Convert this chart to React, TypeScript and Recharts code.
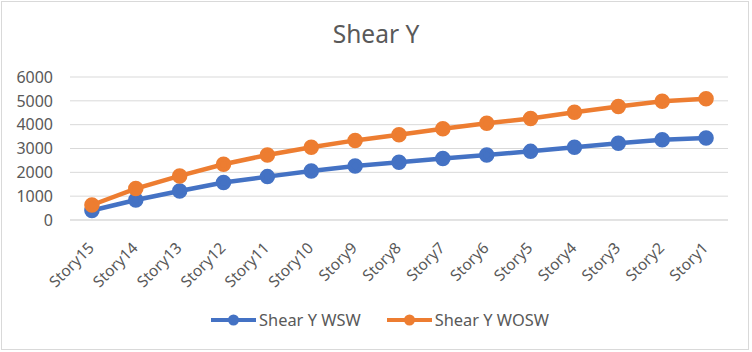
import React from "react";
import { LineChart, Line, XAxis, YAxis, CartesianGrid } from "recharts";

const stories = [
  "Story15", "Story14", "Story13", "Story12", "Story11", "Story10", "Story9", "Story8",
  "Story7", "Story6", "Story5", "Story4", "Story3", "Story2", "Story1",
];
const shearWsw = [400, 840, 1220, 1570, 1820, 2060, 2270, 2420, 2580, 2730, 2880, 3050, 3220, 3370, 3440];
const shearWosw = [630, 1320, 1850, 2340, 2730, 3050, 3340, 3580, 3830, 4060, 4260, 4520, 4760, 4980, 5090];
const yTicks = [0, 1000, 2000, 3000, 4000, 5000, 6000];

const BLUE = "#4472C4";
const ORANGE = "#ED7D31";
const TEXT = "#595959";
const FONT = "'Noto Sans', sans-serif";

const data = stories.map((name, i) => ({
  name,
  wsw: shearWsw[i],
  wosw: shearWosw[i],
}));

const StoryTick = ({ x, y, payload }: any) => (
  <g transform={`translate(${x + 3},${y + 29})`}>
    <text transform="rotate(-45)" textAnchor="end" fill={TEXT} fontSize={15.5} fontFamily={FONT}>
      {payload.value}
    </text>
  </g>
);

const LegendItem = ({ color, label }: { color: string; label: string }) => (
  <div style={{ display: "flex", alignItems: "center", gap: 3 }}>
    <svg width={45} height={12}>
      <line x1={0} y1={6} x2={45} y2={6} stroke={color} strokeWidth={4} strokeLinecap="round" />
      <circle cx={22.5} cy={6} r={5.5} fill={color} />
    </svg>
    <span>{label}</span>
  </div>
);

export default function App() {
  return (
    <div style={{ position: "absolute", left: 0, top: 0, width: 752, height: 352, background: "#fff", fontFamily: FONT }}>
      <div style={{ position: "absolute", left: 1, top: 1, width: 746, height: 347, border: "1px solid #d9d9d9" }} />
      <div style={{ position: "absolute", top: 17, width: 752, textAlign: "center", fontSize: 24.5, color: TEXT }}>
        Shear Y
      </div>
      <LineChart width={752} height={352} data={data} margin={{ top: 77, right: 24, left: 0, bottom: 0 }}>
        <CartesianGrid vertical={false} stroke="#d9d9d9" strokeWidth={1} />
        <XAxis
          dataKey="name"
          scale="band"
          height={132}
          tickLine={false}
          tickSize={0}
          tickMargin={0}
          axisLine={{ stroke: "#d9d9d9" }}
          interval={0}
          tick={<StoryTick />}
        />
        <YAxis
          width={70}
          domain={[0, 6000]}
          ticks={yTicks}
          tickLine={false}
          axisLine={false}
          tickMargin={11}
          tick={{ fill: TEXT, fontSize: 16, fontFamily: FONT }}
        />
        <Line dataKey="wsw" stroke={BLUE} strokeWidth={4.5} dot={{ r: 5.5, fill: BLUE, stroke: BLUE }} isAnimationActive={false} />
        <Line dataKey="wosw" stroke={ORANGE} strokeWidth={4.5} dot={{ r: 5.5, fill: ORANGE, stroke: ORANGE }} isAnimationActive={false} />
      </LineChart>
      <div
        style={{
          position: "absolute",
          top: 308,
          left: 0,
          width: 760,
          display: "flex",
          justifyContent: "center",
          gap: 26,
          fontSize: 16.4,
          color: TEXT,
        }}
      >
        <LegendItem color={BLUE} label="Shear Y WSW" />
        <LegendItem color={ORANGE} label="Shear Y WOSW" />
      </div>
    </div>
  );
}
